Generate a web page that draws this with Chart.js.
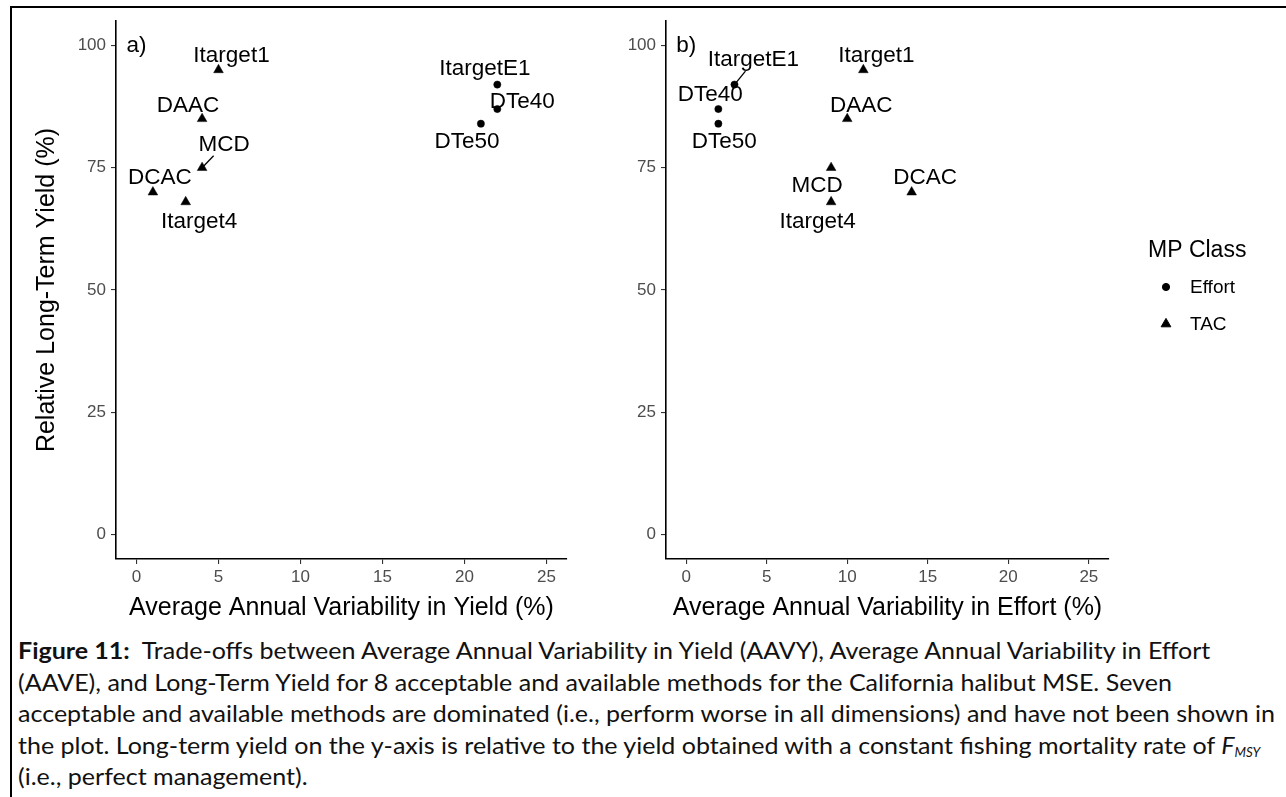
<!DOCTYPE html>
<html>
<head>
<meta charset="utf-8">
<script src="https://cdn.jsdelivr.net/npm/chart.js@4.4.0/dist/chart.umd.min.js"></script>
<style>
  body { margin: 0; background: #fff; width: 1286px; height: 797px; overflow: hidden; position: relative; }
  #frame { position: absolute; left: 10px; top: 6px; width: 1400px; height: 900px; border-top: 2px solid #000; border-left: 2px solid #000; }
  #wrapA { position: absolute; left: 0; top: 0; }
  #wrapB { position: absolute; left: 560px; top: 0; }
  #caption { position: absolute; left: 18px; top: 635px; font-family: Lato, "Open Sans", sans-serif; font-size: 23.5px; color: #111; transform-origin: 0 0; }
  #caption .ln { white-space: nowrap; height: 31.5px; line-height: 31.5px; }
  #caption b { font-weight: 700; }
  #caption sub { font-size: 12.5px; vertical-align: -3px; line-height: 0; }
</style>
</head>
<body>
<div id="frame"></div>
<div id="wrapA"><canvas id="panelA" width="600" height="630"></canvas></div>
<div id="wrapB"><canvas id="panelB" width="726" height="630"></canvas></div>
<div id="caption">
  <div class="ln"><span><b>Figure 11:</b>&nbsp; Trade-offs between Average Annual Variability in Yield (AAVY), Average Annual Variability in Effort</span></div>
  <div class="ln"><span>(AAVE), and Long-Term Yield for 8 acceptable and available methods for the California halibut MSE. Seven</span></div>
  <div class="ln"><span id="ln3">acceptable and available methods are dominated (i.e., perform worse in all dimensions) and have not been shown in</span></div>
  <div class="ln"><span>the plot. Long-term yield on the y-axis is relative to the yield obtained with a constant fishing mortality rate of <i>F<sub>MSY</sub></i></span></div>
  <div class="ln"><span>(i.e., perfect management).</span></div>
</div>
<script>
// management procedures
const mpNames = ['Itarget1', 'DAAC', 'MCD', 'DCAC', 'Itarget4', 'ItargetE1', 'DTe40', 'DTe50'];
const mpClass = ['TAC', 'TAC', 'TAC', 'TAC', 'TAC', 'Effort', 'Effort', 'Effort'];
const aavy = [5, 4, 4, 1, 3, 22, 22, 21];       // avg annual variability in yield (%)
const aave = [11, 10, 9, 14, 9, 3, 2, 2];       // avg annual variability in effort (%)
const ltYield = [95, 85, 75, 70, 68, 92, 87, 84]; // relative long-term yield (%)
const classes = ['Effort', 'TAC'];
const xTicks = [0, 5, 10, 15, 20, 25];
const yTicks = [0, 25, 50, 75, 100];

// repelled label placement (pixel nudges from each point)
const labelNudgeA = {
  Itarget1: [13, -14], DAAC: [-14, -13], MCD: [22, -23, [11.5, -12]], DCAC: [7, -14.5],
  Itarget4: [13.5, 19.5], ItargetE1: [-12.5, -15.5], DTe40: [25, -7], DTe50: [-14, 18.5]
};
const labelNudgeB = {
  Itarget1: [13, -14], DAAC: [14, -13], MCD: [-14, 18.5], DCAC: [13.5, -14],
  Itarget4: [-13.5, 19.5], ItargetE1: [19, -24.5, [11, -13.5]], DTe40: [-8, -14.5], DTe50: [6, 18.5]
};

const FONT = '"Liberation Sans", Arial, sans-serif';
Chart.defaults.font.family = FONT;
Chart.defaults.color = '#000';

const markers = { Effort: { style: 'circle', r: 3.6 }, TAC: { style: 'triangle', r: 5.6 } };

function buildDatasets(xs) {
  return classes.map(c => ({
    label: c,
    data: mpNames.map((n, i) => ({ x: xs[i], y: ltYield[i], name: n })).filter((p, i) => mpClass[i] === c),
    pointStyle: markers[c].style,
    pointRadius: markers[c].r,
    pointHoverRadius: markers[c].r,
    backgroundColor: '#000',
    borderColor: '#000',
    borderWidth: 0.5,
    showLine: false
  }));
}

function labelPlugin(nudges, tag) {
  return {
    id: 'mpLabels',
    afterDatasetsDraw(chart) {
      const ctx = chart.ctx;
      ctx.save();
      ctx.fillStyle = '#000';
      ctx.strokeStyle = '#000';
      ctx.lineWidth = 1.3;
      ctx.font = '22.5px ' + FONT;
      ctx.textAlign = 'center';
      ctx.textBaseline = 'middle';
      chart.data.datasets.forEach((ds, di) => {
        chart.getDatasetMeta(di).data.forEach((pt, i) => {
          const name = ds.data[i].name;
          const o = nudges[name];
          if (o[2]) {
            ctx.beginPath();
            ctx.moveTo(pt.x + o[2][0], pt.y + o[2][1]);
            ctx.lineTo(pt.x, pt.y);
            ctx.stroke();
          }
          ctx.fillText(name, pt.x + o[0], pt.y + o[1]);
        });
      });
      ctx.fillText(tag, chart.scales.x.getPixelForValue(0), chart.scales.y.getPixelForValue(100));
      ctx.restore();
    }
  };
}

const legendPlugin = {
  id: 'mpLegend',
  afterDraw(chart) {
    const ctx = chart.ctx;
    ctx.save();
    ctx.fillStyle = '#000';
    ctx.strokeStyle = '#000';
    ctx.textAlign = 'left';
    ctx.textBaseline = 'middle';
    ctx.font = '23px ' + FONT;
    ctx.fillText('MP Class', 588, 251);
    ctx.font = '19px ' + FONT;
    classes.forEach((c, i) => {
      const y = 287 + i * 37;
      Chart.helpers.drawPoint(ctx, { pointStyle: markers[c].style, radius: markers[c].r, rotation: 0, borderWidth: 0.5 }, 606, y);
      ctx.fillText(c, 630, y + 1);
    });
    ctx.restore();
  }
};

function makePanel(id, xs, xTitle, yTitle, nudges, tag, yWidth, padRight, extra) {
  return new Chart(document.getElementById(id), {
    type: 'scatter',
    data: { datasets: buildDatasets(xs) },
    options: {
      responsive: false,
      animation: false,
      layout: { padding: { left: 0, top: 21, right: padRight, bottom: 0 } },
      plugins: { legend: { display: false }, tooltip: { enabled: false } },
      scales: {
        x: {
          min: -1.25, max: 26.25,
          afterBuildTicks: s => { s.ticks = xTicks.map(v => ({ value: v })); },
          afterFit: s => { s.height = 71; },
          ticks: { font: { size: 17 }, color: '#4D4D4D', padding: 3, maxRotation: 0 },
          grid: { drawOnChartArea: false, tickLength: 5, color: '#333', lineWidth: 1.1 },
          border: { color: '#000', width: 1.6 },
          title: { display: true, text: xTitle, font: { size: 25 }, color: '#000', padding: { top: 0, bottom: 7 } }
        },
        y: {
          min: -5, max: 105,
          afterBuildTicks: s => { s.ticks = yTicks.map(v => ({ value: v })); },
          afterFit: s => { s.width = yWidth; },
          ticks: { font: { size: 17 }, color: '#4D4D4D', padding: 5 },
          grid: { drawOnChartArea: false, tickLength: 5, color: '#333', lineWidth: 1.1 },
          border: { color: '#000', width: 1.6 },
          title: { display: !!yTitle, text: yTitle, font: { size: 25 }, color: '#000', padding: { top: 32, bottom: 0 } }
        }
      }
    },
    plugins: [labelPlugin(nudges, tag)].concat(extra)
  });
}

makePanel('panelA', aavy, 'Average Annual Variability in Yield (%)', 'Relative Long-Term Yield (%)', labelNudgeA, 'a)', 116, 33, []);
makePanel('panelB', aave, 'Average Annual Variability in Effort (%)', '', labelNudgeB, 'b)', 106, 177, [legendPlugin]);

// fit the caption to the same line length as the figure text block
const cap = document.getElementById('caption');
const w3 = document.getElementById('ln3').getBoundingClientRect().width;
cap.style.transform = 'scaleX(' + (1257 / w3) + ')';
</script>
</body>
</html>
